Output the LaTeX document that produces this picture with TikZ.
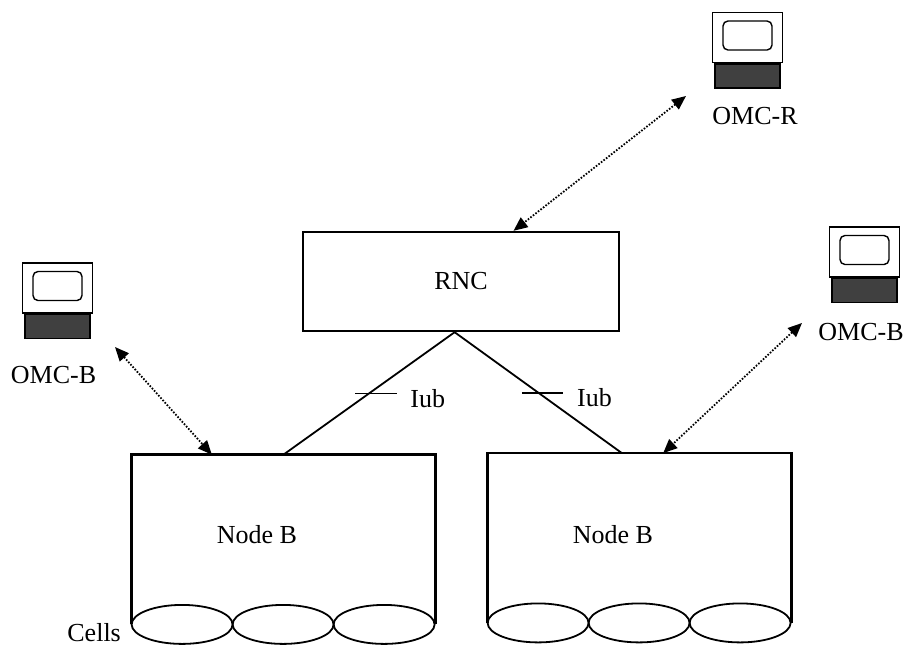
\documentclass[tikz,border=0pt]{standalone}
\usepackage{fontspec}
\setmainfont{Liberation Serif}
\usetikzlibrary{positioning,calc,arrows.meta,shapes.geometric}
\begin{document}
\begin{tikzpicture}[x=0.5pt, y=-0.5pt,
  every node/.style={font=\fontsize{13pt}{15pt}\selectfont, inner sep=0pt},
  unit/.style={draw, line width=1.2pt, minimum width=158pt, minimum height=49.5pt},
  nodeb/.style={minimum width=151.5pt, minimum height=84.5pt},
  cell/.style={draw, ellipse, line width=0.9pt, minimum width=50.5pt, minimum height=19.5pt},
  screen/.style={draw, fill=white, line width=0.7pt, minimum width=35pt, minimum height=25pt},
  glass/.style={draw, rounded corners=2.5pt, line width=0.7pt, minimum width=24.5pt, minimum height=14.5pt},
  stand/.style={draw, fill=black!75, line width=0.7pt, minimum width=32.5pt, minimum height=12pt},
  link/.style={line width=0.9pt},
  mgmt/.style={line width=0.9pt, dash pattern=on 0.8pt off 0.8pt,
    {Triangle[length=7pt,width=6pt]}-{Triangle[length=7pt,width=6pt]}}]

\useasboundingbox (0,0) rectangle (906,645);

\node[screen] (omcr) at (747.5,37.5) {};
\node[glass] (omcrglass) at ($(omcr.center)+(0,-2)$) {};
\node[stand, below=0pt of omcr] (omcrstand) {};
\node (omcrtext) at (755,116) {OMC-R};

\node[screen] (omcbl) at (57.5,288) {};
\node[glass] (omcblglass) at ($(omcbl.center)+(0,-2)$) {};
\node[stand, below=0pt of omcbl] (omcblstand) {};
\node (omcbltext) at (53.5,375) {OMC-B};

\node[screen] (omcbr) at (864.5,252) {};
\node[glass] (omcbrglass) at ($(omcbr.center)+(0,-2)$) {};
\node[stand, below=0pt of omcbr] (omcbrstand) {};
\node (omcbrtext) at (861,332) {OMC-B};

\node[unit] (rnc) at (461,281.5) {RNC};

\node[nodeb] (nbl) at (283.5,539.5) {};
\node (nbltext) at (257,535) {Node B};
\draw[line width=1.2pt] (nbl.south west) -- (nbl.north west) -- (nbl.north east) -- (nbl.south east);
\foreach \i in {0,1,2} {
  \node[cell] (nblcell\i) at ($(nbl.south west)+(50.5+101*\i,0)$) {};
}

\node[nodeb] (nbr) at (639.5,538) {};
\node (nbrtext) at (613,535) {Node B};
\draw[line width=1.2pt] (nbr.south west) -- (nbr.north west) -- (nbr.north east) -- (nbr.south east);
\foreach \i in {0,1,2} {
  \node[cell] (nbrcell\i) at ($(nbr.south west)+(50.5+101*\i,0)$) {};
}

\node[anchor=base west] (cells) at (67,641) {Cells};

\coordinate (apex) at ($(rnc.south west)!0.48!(rnc.south east)$);
\draw[link] (apex) -- coordinate[pos=0.5] (iubl) (nbl.north);
\draw[link] (apex) -- coordinate[pos=0.5] (iubr) ($(nbr.north west)!0.442!(nbr.north east)$);

\draw[link] ($(iubl)+(-14,0)$) -- ($(iubl)+(28,0)$);
\node[anchor=west] (iubltext) at ($(iubl)+(41,5)$) {Iub};
\draw[link] ($(iubr)+(-16.5,0)$) -- ($(iubr)+(24.5,0)$);
\node[anchor=west] (iubrtext) at ($(iubr)+(38.5,5)$) {Iub};

\coordinate (omcrend) at (686,96);
\draw[mgmt] (omcrend) -- ($(rnc.north west)!0.665!(rnc.north east)$);
\coordinate (omcblend) at (115,347);
\draw[mgmt] (omcblend) -- ($(nbl.north west)!0.264!(nbl.north east)$);
\coordinate (omcbrend) at (802,323);
\draw[mgmt] (omcbrend) -- ($(nbr.north west)!0.578!(nbr.north east)$);
\end{tikzpicture}
\end{document}
